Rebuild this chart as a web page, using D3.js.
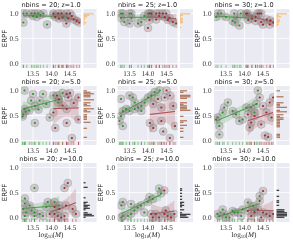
<!DOCTYPE html>
<html>
<head>
<meta charset="utf-8">
<script src="https://cdn.jsdelivr.net/npm/d3@7"></script>
<style>
  body { margin: 0; background: #fff; }
  svg { display: block; will-change: transform; }
  text { text-rendering: geometricPrecision; }
</style>
</head>
<body>
<svg class="chart"></svg>
<script>

// panel labels
var nbinsList = [20, 25, 30];
var zList = ["1.0", "5.0", "10.0"];
var xTicks = [13.5, 14.0, 14.5];
var yTicks = [0.0, 0.5, 1.0];
var histColors = ["#ffae42", "#a0522d", "#000000"];

// [log10 M, ERPF], green = low mass sample, red = high mass sample
var green_20_z1 = [[13.24,1.0],[13.33,1.0],[13.46,1.0],[13.55,1.0],[13.64,1.0],[13.78,1.0],[13.5,0.95],[13.6,0.93],[13.24,0.82],[13.88,0.78],[14.05,0.97],[14.2,0.95],[14.32,0.96],[13.7,0.97],[14.42,0.92]];
var red_20_z1 = [[14.05,1.0],[14.18,1.0],[14.27,1.0],[14.41,1.0],[14.5,1.0],[14.1,0.93],[14.2,0.9],[14.3,0.92],[14.45,0.9],[14.6,0.88],[14.68,0.85],[14.75,0.82],[14.4,0.8],[14.55,0.95]];
var green_25_z1 = [[13.27,1.0],[13.32,1.0],[13.5,1.0],[13.55,1.0],[13.27,0.91],[13.55,0.91],[13.36,0.83],[13.5,0.8],[13.73,0.8],[13.82,0.83],[14.0,1.0],[14.1,0.97],[13.9,0.95]];
var red_25_z1 = [[14.04,1.0],[14.09,1.0],[14.22,1.0],[14.31,1.0],[14.4,1.0],[14.49,1.0],[14.04,0.87],[14.22,0.88],[14.54,0.87],[14.58,0.91],[14.67,0.83],[14.76,0.8],[14.0,0.71],[14.3,0.95],[14.45,0.93]];
var green_30_z1 = [[13.28,1.0],[13.37,1.0],[13.72,1.0],[13.9,1.0],[13.23,0.93],[13.5,0.93],[13.8,0.92],[13.68,0.85],[13.74,0.82],[13.86,0.76],[14.05,0.97],[14.2,0.95]];
var red_30_z1 = [[14.04,1.0],[14.08,1.0],[14.35,1.0],[14.4,1.0],[14.45,1.0],[14.3,0.93],[14.2,0.9],[14.1,0.87],[14.3,0.85],[14.45,0.83],[14.6,0.88],[14.7,0.86],[14.78,0.82],[14.5,0.78],[14.68,0.78]];

var green_20_z5 = [[13.27,1.0],[13.5,0.93],[13.77,0.93],[13.45,0.8],[13.68,0.8],[13.55,0.69],[13.86,0.73],[13.27,0.63],[13.23,0.52],[13.3,0.58],[13.22,0.48],[13.55,0.35],[14.18,0.76],[14.05,0.9],[14.3,0.95],[13.4,0.6],[13.65,0.62],[13.95,0.46]];
var red_20_z5 = [[14.41,0.93],[14.45,0.86],[14.73,0.86],[14.41,0.63],[14.73,0.42],[14.41,0.35],[14.55,0.05],[14.05,0.56],[14.1,0.25],[14.2,0.82],[14.5,0.95],[14.3,0.7],[14.6,0.75],[14.15,0.9]];
var green_25_z5 = [[13.27,0.83],[13.5,0.9],[13.59,0.86],[13.64,0.76],[13.41,0.63],[13.32,0.59],[13.23,0.39],[13.27,0.49],[13.32,0.29],[13.5,0.59],[13.64,0.63],[13.73,0.66],[13.82,0.69],[13.91,0.76],[14.0,0.86],[14.09,0.9],[14.18,0.97],[14.32,1.0],[13.82,0.59]];
var red_25_z5 = [[14.14,0.73],[14.36,0.66],[14.45,0.86],[14.59,0.9],[14.05,0.35],[14.14,0.25],[14.36,0.39],[14.73,0.29],[14.59,0.05],[14.41,0.18],[14.27,0.83],[14.5,1.0],[14.68,0.69]];
var green_30_z5 = [[13.27,0.46],[13.32,0.29],[13.32,0.12],[13.41,0.56],[13.45,0.66],[13.55,0.76],[13.68,0.59],[13.77,0.52],[13.86,0.39],[13.95,0.42],[14.05,0.66],[14.18,0.66],[14.32,0.73],[14.36,1.0],[14.27,0.56],[13.23,0.42]];
var red_30_z5 = [[14.18,0.36],[14.41,0.86],[14.5,0.69],[14.59,0.56],[14.77,0.86],[14.45,0.32],[14.55,0.1],[14.14,0.26],[14.73,0.46],[14.64,0.07],[14.09,0.52],[14.27,0.49],[14.68,0.76]];

var green_20_z10 = [[13.54,0.59],[13.28,0.38],[13.28,0.28],[13.23,0.17],[13.32,0.1],[13.46,0.14],[13.54,0.1],[13.54,0.03],[13.68,0.07],[13.86,0.21],[13.9,0.31],[14.08,0.31],[13.28,0.03],[13.77,0.03],[13.41,0.24],[14.21,0.24]];
var red_20_z10 = [[14.35,0.59],[14.44,0.69],[14.08,0.21],[14.21,0.17],[14.39,0.24],[14.26,0.0],[14.35,0.03],[14.57,0.17],[14.08,0.07],[13.95,0.07],[14.17,0.03],[14.66,0.07]];
var green_25_z10 = [[13.28,0.24],[13.32,0.31],[13.54,0.27],[13.63,0.14],[13.32,0.03],[13.46,0.03],[13.54,0.07],[13.72,0.2],[13.81,0.24],[13.99,0.31],[14.04,0.41],[14.13,0.37],[14.3,0.58],[14.35,0.48],[13.28,0.0],[13.9,0.1]];
var red_25_z10 = [[14.44,0.54],[14.08,0.07],[14.21,0.07],[14.3,0.0],[14.44,0.07],[14.53,0.03],[14.62,0.0],[14.13,0.0],[14.48,0.14],[14.71,0.07]];
var green_30_z10 = [[13.27,0.07],[13.32,0.03],[13.41,0.16],[13.45,0.07],[13.5,0.0],[13.59,0.0],[13.68,0.13],[13.73,0.1],[13.82,0.1],[13.91,0.03],[14.09,0.3],[14.23,0.23],[14.41,0.43],[14.27,0.13],[13.95,0.16]];
var red_30_z10 = [[14.5,0.53],[14.41,0.33],[14.09,0.13],[14.18,0.03],[14.27,0.1],[14.36,0.16],[14.5,0.1],[14.59,0.07],[14.68,0.03],[14.77,0.07],[14.45,0.0]];

var panelData = [
  [[green_20_z1, red_20_z1], [green_25_z1, red_25_z1], [green_30_z1, red_30_z1]],
  [[green_20_z5, red_20_z5], [green_25_z5, red_25_z5], [green_30_z5, red_30_z5]],
  [[green_20_z10, red_20_z10], [green_25_z10, red_25_z10], [green_30_z10, red_30_z10]]
];

var width = 293, height = 240;
var colLeft = [21, 117.5, 214];
var rowTop = [9, 86, 163];
var mainW = 60, mainH = 59;
var margGap = 2.5, margW = 13;
var greenC = "#1f9a1f", redC = "#a8262a";
var bg = "#eaeaf2";

var svg = d3.select(".chart")
  .attr("width", width)
  .attr("height", height);

svg.append("rect").attr("width", width).attr("height", height).attr("fill", "#fff");

// least squares fit with a 95% band on the mean
function fitLine(pts) {
  var n = pts.length;
  var mx = d3.mean(pts, d => d[0]), my = d3.mean(pts, d => d[1]);
  var sxx = d3.sum(pts, d => (d[0] - mx) * (d[0] - mx));
  var sxy = d3.sum(pts, d => (d[0] - mx) * (d[1] - my));
  var b = sxy / sxx, a = my - b * mx;
  var s = Math.sqrt(d3.sum(pts, d => Math.pow(d[1] - (a + b * d[0]), 2)) / (n - 2));
  var ext = d3.extent(pts, d => d[0]);
  var xs = d3.range(41).map(i => ext[0] + (ext[1] - ext[0]) * i / 40);
  return xs.map(function(x) {
    var yh = a + b * x;
    var w = 2.1 * s * Math.sqrt(1 / n + (x - mx) * (x - mx) / sxx);
    return {x: x, y: yh, lo: yh - w, hi: yh + w};
  });
}

rowTop.forEach(function(top, r) {
  colLeft.forEach(function(left, c) {
    var green = panelData[r][c][0], red = panelData[r][c][1];

    var x = d3.scaleLinear().domain([13.176, 14.796]).range([0, mainW]);
    var y = d3.scaleLinear().domain([-0.09, 1.09]).range([mainH, 0]);

    var g = svg.append("g").attr("transform", "translate(" + left + "," + top + ")");
    var clipId = "clip" + r + c;
    g.append("clipPath").attr("id", clipId)
      .append("rect").attr("width", mainW).attr("height", mainH);

    g.append("rect").attr("width", mainW).attr("height", mainH).attr("fill", bg);

    // grid
    g.selectAll(".gx").data(xTicks).enter().append("line")
      .attr("x1", d => x(d)).attr("x2", d => x(d))
      .attr("y1", 0).attr("y2", mainH)
      .attr("stroke", "#fff").attr("stroke-width", 0.8);
    g.selectAll(".gy").data(yTicks).enter().append("line")
      .attr("y1", d => y(d)).attr("y2", d => y(d))
      .attr("x1", 0).attr("x2", mainW)
      .attr("stroke", "#fff").attr("stroke-width", 0.8);

    var plot = g.append("g").attr("clip-path", "url(#" + clipId + ")");

    [[green, greenC], [red, redC]].forEach(function(grp) {
      var pts = grp[0], col = grp[1];
      var fit = fitLine(pts);
      plot.append("path")
        .datum(fit)
        .attr("d", d3.area().x(d => x(d.x)).y0(d => y(d.lo)).y1(d => y(d.hi)))
        .attr("fill", col).attr("fill-opacity", 0.17);
      plot.append("path")
        .datum(fit)
        .attr("d", d3.line().x(d => x(d.x)).y(d => y(d.y)))
        .attr("fill", "none").attr("stroke", col).attr("stroke-width", 1);

      // rug
      plot.selectAll(null).data(pts).enter().append("line")
        .attr("x1", d => x(d[0])).attr("x2", d => x(d[0]))
        .attr("y1", mainH).attr("y2", mainH - 3.2)
        .attr("stroke", col).attr("stroke-opacity", 0.6).attr("stroke-width", 0.8);
    });

    [[green, greenC], [red, redC]].forEach(function(grp) {
      var pts = grp[0], col = grp[1];
      plot.selectAll(null).data(pts).enter().append("circle")
        .attr("cx", d => x(d[0])).attr("cy", d => y(d[1])).attr("r", 4)
        .attr("fill", "#8c8080").attr("fill-opacity", 0.33)
        .attr("stroke", "#7a6e6e").attr("stroke-opacity", 0.45).attr("stroke-width", 0.5);
      plot.selectAll(null).data(pts).enter().append("circle")
        .attr("cx", d => x(d[0])).attr("cy", d => y(d[1])).attr("r", 1.1)
        .attr("fill", col);
    });

    // tick labels
    g.selectAll(null).data(xTicks).enter().append("text")
      .attr("x", d => x(d)).attr("y", mainH + 7.5)
      .attr("text-anchor", "middle")
      .attr("font-family", "Liberation Serif, serif").attr("font-size", 7.2)
      .attr("fill", "#333")
      .text(d => d.toFixed(1));
    g.selectAll(null).data(yTicks).enter().append("text")
      .attr("x", -2.5).attr("y", d => y(d)).attr("dy", "0.33em")
      .attr("text-anchor", "end")
      .attr("font-family", "Liberation Serif, serif").attr("font-size", 7.2)
      .attr("fill", "#333")
      .text(d => d.toFixed(1));

    g.append("text")
      .attr("transform", "translate(-14.5," + (mainH / 2) + ") rotate(-90)")
      .attr("text-anchor", "middle")
      .attr("font-family", "DejaVu Sans, sans-serif").attr("font-size", 7)
      .attr("fill", "#262626")
      .text("ERPF");

    var title = g.append("text")
      .attr("x", mainW / 2).attr("y", -2)
      .attr("text-anchor", "middle")
      .attr("font-family", "DejaVu Sans, sans-serif").attr("font-size", 6.6)
      .attr("fill", "#262626");
    title.append("tspan").text("nbins = " + nbinsList[c] + "; ");
    title.append("tspan").attr("font-family", "Liberation Serif, serif")
      .attr("font-style", "italic").attr("font-size", 7.5).text("z");
    title.append("tspan").text("=" + zList[r]);

    if (r === 2) {
      var xl = g.append("text")
        .attr("x", mainW / 2).attr("y", mainH + 14.5)
        .attr("text-anchor", "middle")
        .attr("font-family", "Liberation Serif, serif").attr("font-size", 7.2)
        .attr("fill", "#262626");
      xl.append("tspan").text("log");
      xl.append("tspan").attr("font-size", 4.8).attr("dy", 1.4).text("10");
      xl.append("tspan").attr("dy", -1.4).text("(");
      xl.append("tspan").attr("font-style", "italic").text("M");
      xl.append("tspan").text(")");
    }

    // marginal histogram of ERPF
    var mg = svg.append("g")
      .attr("transform", "translate(" + (left + mainW + margGap) + "," + top + ")");
    mg.append("rect").attr("width", margW).attr("height", mainH).attr("fill", bg);
    mg.selectAll(null).data(yTicks).enter().append("line")
      .attr("y1", d => y(d)).attr("y2", d => y(d))
      .attr("x1", 0).attr("x2", margW)
      .attr("stroke", "#fff").attr("stroke-width", 0.8);

    var vals = green.concat(red).map(d => d[1]);
    var bins = d3.bin()
      .domain([-0.015, 1.035])
      .thresholds(d3.range(-0.015, 1.035, 0.03))(vals);
    var hx = d3.scaleLinear()
      .domain([0, d3.max(bins, b => b.length)])
      .range([0, margW - 2.5]);
    mg.selectAll(null).data(bins.filter(b => b.length > 0)).enter().append("rect")
      .attr("x", 0)
      .attr("y", b => y(b.x1))
      .attr("width", b => hx(b.length))
      .attr("height", b => Math.max(0.6, y(b.x0) - y(b.x1) - 0.4))
      .attr("fill", histColors[r]).attr("fill-opacity", 0.85);
  });
});

</script>
</body>
</html>
